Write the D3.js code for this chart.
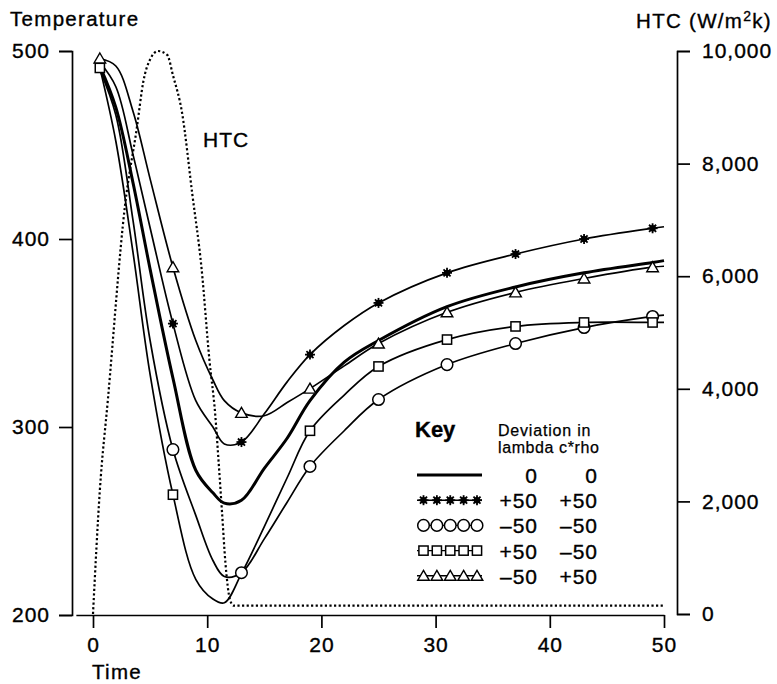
<!DOCTYPE html>
<html>
<head>
<meta charset="utf-8">
<script src="https://cdn.jsdelivr.net/npm/d3@7"></script>
<style>
  html, body { margin: 0; padding: 0; background: #fff; }
  svg { display: block; font-family: "Liberation Sans", Arial, Helvetica, sans-serif; }
  svg text { stroke: #000; stroke-width: 0.35px; }
</style>
</head>
<body>
<svg id="chart" width="777" height="684"></svg>
<script>
// ---- axis ticks ----
const timeTicks = [0, 10, 20, 30, 40, 50];
const tempTicks = [200, 300, 400, 500];
const htcTicks = [0, 2000, 4000, 6000, 8000, 10000];

// ---- sample times of the cooling curves ----
const times = [0.6, 2, 3.5, 5, 7, 9, 10.5, 11.5, 13, 15, 17, 19, 22, 25, 31, 37, 43, 49, 50];

// ---- temperature for each deviation case (lambda, c*rho) ----
const tempZero      = [492, 470, 430, 384, 326, 277, 265, 259.5, 261, 278, 294, 314, 334.5, 346, 364, 374.5, 382, 387.5, 388.5];
const tempPlusPlus  = [494, 481, 445, 406, 355, 314, 300, 291, 292, 307, 324, 338.5, 354, 366, 382, 392, 400, 405.7, 406.5];
const tempMinusMinus= [490, 466, 410, 346, 288, 253, 229, 220.5, 222.5, 240.5, 260, 279, 298, 314.6, 333.2, 344.4, 352.9, 358.8, 359.5];
const tempPlusMinus = [491, 452, 393, 328, 264, 219, 208.5, 206.5, 222, 247, 273, 298, 317, 332.2, 346.5, 353.5, 355.6, 355.6, 355.6];
const tempMinusPlus = [496, 492, 468, 432, 385, 346, 325, 314, 307.5, 306, 313, 320.4, 332.5, 344.4, 361, 371.6, 379, 385, 385.5];

// ---- times at which symbols are plotted ----
const markTimes          = [7, 13, 19, 25, 31, 37, 43, 49];
const markTimesStart     = [0.6, 7, 13, 19, 25, 31, 37, 43, 49];
const markTimesSquare    = [0.6, 7, 19, 25, 31, 37, 43, 49];

// ---- heat transfer coefficient ----
const htcTimes  = [0, 0.6, 1.3, 2.8, 3.85, 4.4, 5.0, 5.7, 6.5, 7.0, 7.8, 8.7, 9.5, 10.2, 10.7, 11.0, 11.3, 11.6, 12.0, 12.3, 50];
const htcValues = [0, 2200, 3800, 7250, 8650, 9450, 9850, 10000, 9930, 9570, 8900, 7450, 6150, 4500, 3550, 2700, 1800, 900, 250, 150, 150];

// ---- key ----
const lambdaDev = ["0", "+50", "\u201350", "+50", "\u201350"];
const crhoDev   = ["0", "+50", "\u201350", "\u201350", "+50"];

const series = [
  { values: tempZero,       symbol: null,       marks: [],              width: 3.0 },
  { values: tempPlusPlus,   symbol: "star",     marks: markTimes,       width: 1.7 },
  { values: tempMinusMinus, symbol: "circle",   marks: markTimes,       width: 1.7 },
  { values: tempPlusMinus,  symbol: "square",   marks: markTimesSquare, width: 1.7 },
  { values: tempMinusPlus,  symbol: "triangle", marks: markTimesStart,  width: 1.7 }
];

const svg = d3.select("#chart");
svg.append("rect").attr("width", 777).attr("height", 684).attr("fill", "#fff");

const x = d3.scaleLinear().domain([0, 50]).range([93, 664]);
const y = d3.scaleLinear().domain([200, 500]).range([615, 51]);
const yR = d3.scaleLinear().domain([0, 10000]).range([614, 51]);

function styleAxis(g) {
  g.attr("font-family", null).attr("font-size", null);
  g.selectAll(".domain").attr("stroke", "#000").attr("stroke-width", 1.7);
  g.selectAll(".tick line").attr("stroke", "#000").attr("stroke-width", 1.7);
  g.selectAll(".tick text")
    .attr("fill", "#000")
    .style("font-size", "21px")
    .style("letter-spacing", "1px");
}

// left temperature axis
svg.append("g")
  .attr("transform", "translate(72,0)")
  .call(d3.axisLeft(y).tickValues(tempTicks).tickSize(13).tickPadding(9))
  .call(styleAxis);

// right HTC axis
svg.append("g")
  .attr("transform", "translate(677,0)")
  .call(d3.axisRight(yR).tickValues(htcTicks).tickSize(13).tickPadding(12).tickFormat(d3.format(",")))
  .call(styleAxis);

// time axis, its baseline running slightly left of zero
const xAxisScale = d3.scaleLinear().domain([-1.5, 50]).range([x(-1.5), x(50)]);
svg.append("g")
  .attr("transform", "translate(0,615)")
  .call(d3.axisBottom(xAxisScale).tickValues(timeTicks).tickSizeInner(13).tickSizeOuter(0).tickPadding(9))
  .call(styleAxis);

// axis titles
const titleStyle = t => t.attr("fill", "#000").style("font-size", "20.5px").style("letter-spacing", "1.3px");
svg.append("text").attr("x", 10).attr("y", 26).text("Temperature").call(titleStyle);
const htcTitle = svg.append("text").attr("x", 772).attr("y", 28).attr("text-anchor", "end").call(titleStyle);
htcTitle.append("tspan").text("HTC (W/m");
htcTitle.append("tspan").attr("dy", -7).style("font-size", "14px").text("2");
htcTitle.append("tspan").attr("dy", 7).text("k)");
svg.append("text").attr("x", 92).attr("y", 679).text("Time").call(titleStyle);

// HTC curve (dotted, right axis)
const htcLine = d3.line()
  .x((d, i) => x(htcTimes[i]))
  .y(d => yR(d))
  .curve(d3.curveMonotoneX);
svg.append("path")
  .datum(htcValues)
  .attr("d", htcLine)
  .attr("fill", "none")
  .attr("stroke", "#000")
  .attr("stroke-width", 2.2)
  .attr("stroke-dasharray", "2.2,2.4");

svg.append("text").attr("x", 203).attr("y", 147).text("HTC")
  .attr("fill", "#000").style("font-size", "21px").style("letter-spacing", "1px");

// temperature curves
const tempLine = d3.line()
  .x((d, i) => x(times[i]))
  .y(d => y(d))
  .curve(d3.curveCatmullRom.alpha(0.5));

series.forEach(s => {
  svg.append("path")
    .datum(s.values)
    .attr("d", tempLine)
    .attr("fill", "none")
    .attr("stroke", "#000")
    .attr("stroke-width", s.width)
    .attr("stroke-linejoin", "round");
});

// symbol drawing
function drawSymbol(g, type) {
  if (type === "star") {
    g.append("circle").attr("r", 3.2).attr("fill", "#000");
    [0, 45, 90, 135].forEach(a => {
      const r = a * Math.PI / 180, L = 5;
      g.append("line")
        .attr("x1", -L * Math.cos(r)).attr("y1", -L * Math.sin(r))
        .attr("x2", L * Math.cos(r)).attr("y2", L * Math.sin(r))
        .attr("stroke", "#000").attr("stroke-width", 1.8);
    });
  } else if (type === "circle") {
    g.append("circle").attr("r", 5.8).attr("fill", "#fff").attr("stroke", "#000").attr("stroke-width", 1.5);
  } else if (type === "square") {
    g.append("rect").attr("x", -4.6).attr("y", -4.6).attr("width", 9.2).attr("height", 9.2)
      .attr("fill", "#fff").attr("stroke", "#000").attr("stroke-width", 1.5);
  } else if (type === "triangle") {
    g.append("path").attr("d", "M0,-5.5L5.8,4.5L-5.8,4.5Z")
      .attr("fill", "#fff").attr("stroke", "#000").attr("stroke-width", 1.4).attr("stroke-linejoin", "miter");
  }
}

// plotted symbols
series.forEach(s => {
  if (!s.symbol) return;
  s.marks.forEach(t => {
    const v = s.values[times.indexOf(t)];
    const g = svg.append("g").attr("transform", `translate(${x(t)},${y(v)})`);
    drawSymbol(g, s.symbol);
  });
});

// ---- key ----
const key = svg.append("g");
key.append("text").attr("x", 415).attr("y", 437).text("Key")
  .attr("fill", "#000").style("font-size", "22px").style("font-weight", "bold");
key.append("text").attr("x", 498).attr("y", 436).text("Deviation in")
  .attr("fill", "#000").style("font-size", "16px").style("letter-spacing", "0.8px").style("stroke-width", "0.25px");
key.append("text").attr("x", 498).attr("y", 453).text("lambda c*rho")
  .attr("fill", "#000").style("font-size", "16px").style("letter-spacing", "0.6px").style("stroke-width", "0.25px");

const slot = d3.scalePoint().domain(d3.range(5)).range([423.5, 477]);
series.forEach((s, i) => {
  const ry = 475 + i * 25.2;
  key.append("line").attr("x1", 417).attr("x2", 482).attr("y1", ry).attr("y2", ry)
    .attr("stroke", "#000").attr("stroke-width", s.symbol ? 1.4 : 3);
  if (s.symbol) {
    slot.domain().forEach(j => {
      const g = key.append("g").attr("transform", `translate(${slot(j)},${ry})`);
      drawSymbol(g, s.symbol);
    });
  }
  key.append("text").attr("x", 538).attr("y", ry + 8).attr("text-anchor", "end").text(lambdaDev[i])
    .attr("fill", "#000").style("font-size", "21px").style("letter-spacing", "1px");
  key.append("text").attr("x", 598).attr("y", ry + 8).attr("text-anchor", "end").text(crhoDev[i])
    .attr("fill", "#000").style("font-size", "21px").style("letter-spacing", "1px");
});
</script>
</body>
</html>
